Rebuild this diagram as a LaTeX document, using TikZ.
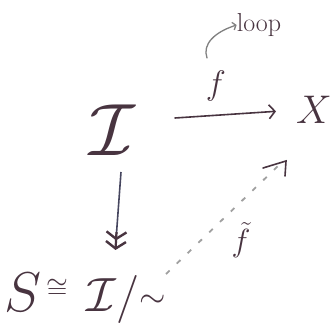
\documentclass[tikz,border=0pt]{standalone}
\usepackage{fix-cm}
\usetikzlibrary{arrows.meta}
\definecolor{ink}{RGB}{72,52,64}
\definecolor{shaft}{RGB}{70,70,95}
\definecolor{dashink}{RGB}{160,160,160}
\tikzset{
  obj/.style={text=ink, inner sep=0pt},
  mapline/.style={draw=ink, line width=1.6pt, line cap=round},
  barbtip/.style={-{Straight Barb[length=6pt,width=14pt,line width=1.6pt]}},
}
\begin{document}
\begin{tikzpicture}[x=1pt,y=1pt]
\useasboundingbox (0,0) rectangle (332,-328);
\node[obj, font=\fontsize{74}{74}\selectfont] (I) at (112,-130) {$\mathcal{I}$};
\node[obj, font=\fontsize{40}{40}\selectfont] (X) at (314,-110) {$X$};
\node[obj, font=\fontsize{56}{56}\selectfont, anchor=base west] (S) at (4,-312) {$S$};
\node[obj, font=\fontsize{28}{28}\selectfont, anchor=base west] (cong) at (46,-298) {$\cong$};
\node[obj, font=\fontsize{48}{48}\selectfont, anchor=base west] (Q) at (86,-312) {$\mathcal{I}/$\raisebox{4pt}{\fontsize{34}{34}\selectfont$\sim$}};
\node[obj, font=\fontsize{34}{34}\selectfont] (f) at (216,-86) {$f$};
\node[obj, font=\fontsize{32}{32}\selectfont] (ft) at (241,-240) {$\tilde f$};
\node[obj, font=\fontsize{26}{26}\selectfont] (loop) at (259,-25) {loop};
\coordinate (ls) at (207,-58);
\draw[draw=gray, line width=1.3pt, line cap=round, -{Straight Barb[length=3pt,width=8pt]}] (ls) .. controls (202,-44) and (215,-32) .. (loop.west);
\draw[mapline, barbtip, shorten >=20pt] (175,-118) -- (X.west);
\draw[draw=shaft, line width=1.6pt] (121,-172) coordinate (ds) -- (116,-240) coordinate (de);
\draw[draw=ink, line width=2.2pt, -{Straight Barb[length=7pt,width=20pt,line width=2.4pt]Straight Barb[length=7pt,width=20pt,line width=2.4pt]}] (116.5,-232) -- (115.5,-250);
\draw[dashink, line width=1.8pt, dash pattern=on 5pt off 10pt] (166,-274) -- (278,-166) coordinate (dt);
\draw[mapline] (263,-168) -- (286,-161) -- (285,-176);
\end{tikzpicture}
\end{document}
